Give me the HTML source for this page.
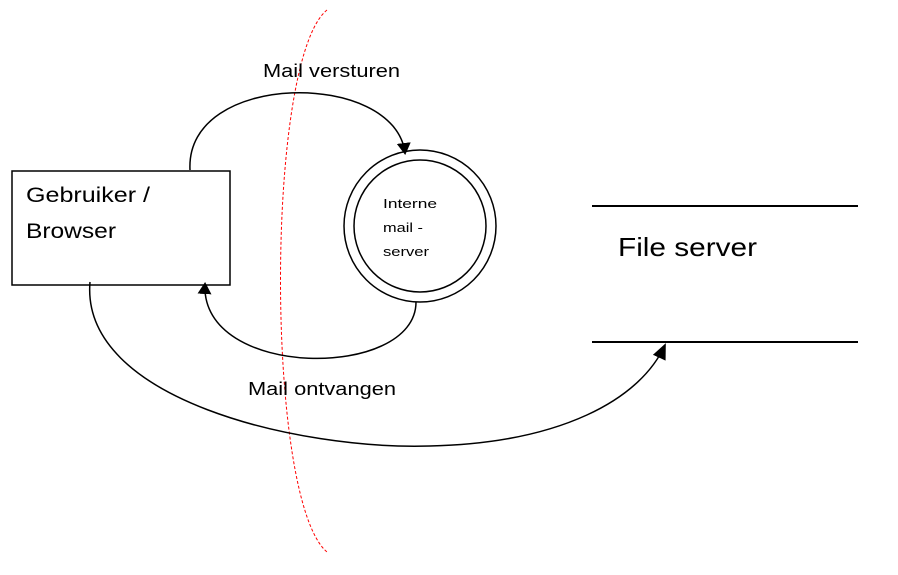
<!DOCTYPE html>
<html><head><meta charset="utf-8"><style>
html,body{margin:0;padding:0;background:#fff;}
svg{display:block;}
text{font-family:"Liberation Sans",sans-serif;fill:#000;}
</style></head><body>
<svg width="898" height="575" viewBox="0 0 898 575" xmlns="http://www.w3.org/2000/svg">
<defs>
<marker id="a" markerWidth="12" markerHeight="14" refX="10" refY="7" orient="auto" markerUnits="userSpaceOnUse">
<path d="M0,0 L12,7 L0,14 z" fill="#000"/>
</marker>
<marker id="b" markerWidth="16" markerHeight="14" refX="14" refY="7" orient="auto" markerUnits="userSpaceOnUse">
<path d="M0,0 L16,7 L0,14 z" fill="#000"/>
</marker>
</defs>
<path d="M327,10 C265,60 265,500 327,552" fill="none" stroke="#f00" stroke-width="1" stroke-dasharray="3,2"/>
<rect x="12" y="171" width="218" height="114" fill="#fff" stroke="#000" stroke-width="1.5"/>
<text x="26" y="202" font-size="21" textLength="124" lengthAdjust="spacingAndGlyphs">Gebruiker /</text>
<text x="26" y="238" font-size="21" textLength="90" lengthAdjust="spacingAndGlyphs">Browser</text>
<circle cx="420" cy="226" r="76" fill="#fff" stroke="#000" stroke-width="1.5"/>
<circle cx="420" cy="226" r="66" fill="#fff" stroke="#000" stroke-width="1.5"/>
<text x="383" y="208" font-size="13" textLength="54" lengthAdjust="spacingAndGlyphs">Interne</text>
<text x="383" y="232" font-size="13" textLength="40" lengthAdjust="spacingAndGlyphs">mail -</text>
<text x="383" y="256" font-size="13" textLength="46" lengthAdjust="spacingAndGlyphs">server</text>
<path d="M190,170 C185,70 395,70 405,153" fill="none" stroke="#000" stroke-width="1.5" marker-end="url(#a)"/>
<path d="M416,302 C416,380 200,380 205,284" fill="none" stroke="#000" stroke-width="1.5" marker-end="url(#a)"/>
<path d="M90,282 C80,400 300,450 430,446 C560,443 640,400 665,345" fill="none" stroke="#000" stroke-width="1.5" marker-end="url(#b)"/>
<text x="263" y="77" font-size="18" textLength="137" lengthAdjust="spacingAndGlyphs">Mail versturen</text>
<text x="248" y="395" font-size="18" textLength="148" lengthAdjust="spacingAndGlyphs">Mail ontvangen</text>
<line x1="592" y1="206" x2="858" y2="206" stroke="#000" stroke-width="2"/>
<line x1="592" y1="342" x2="858" y2="342" stroke="#000" stroke-width="2"/>
<text x="618" y="256" font-size="26" textLength="139" lengthAdjust="spacingAndGlyphs">File server</text>
</svg>
</body></html>
